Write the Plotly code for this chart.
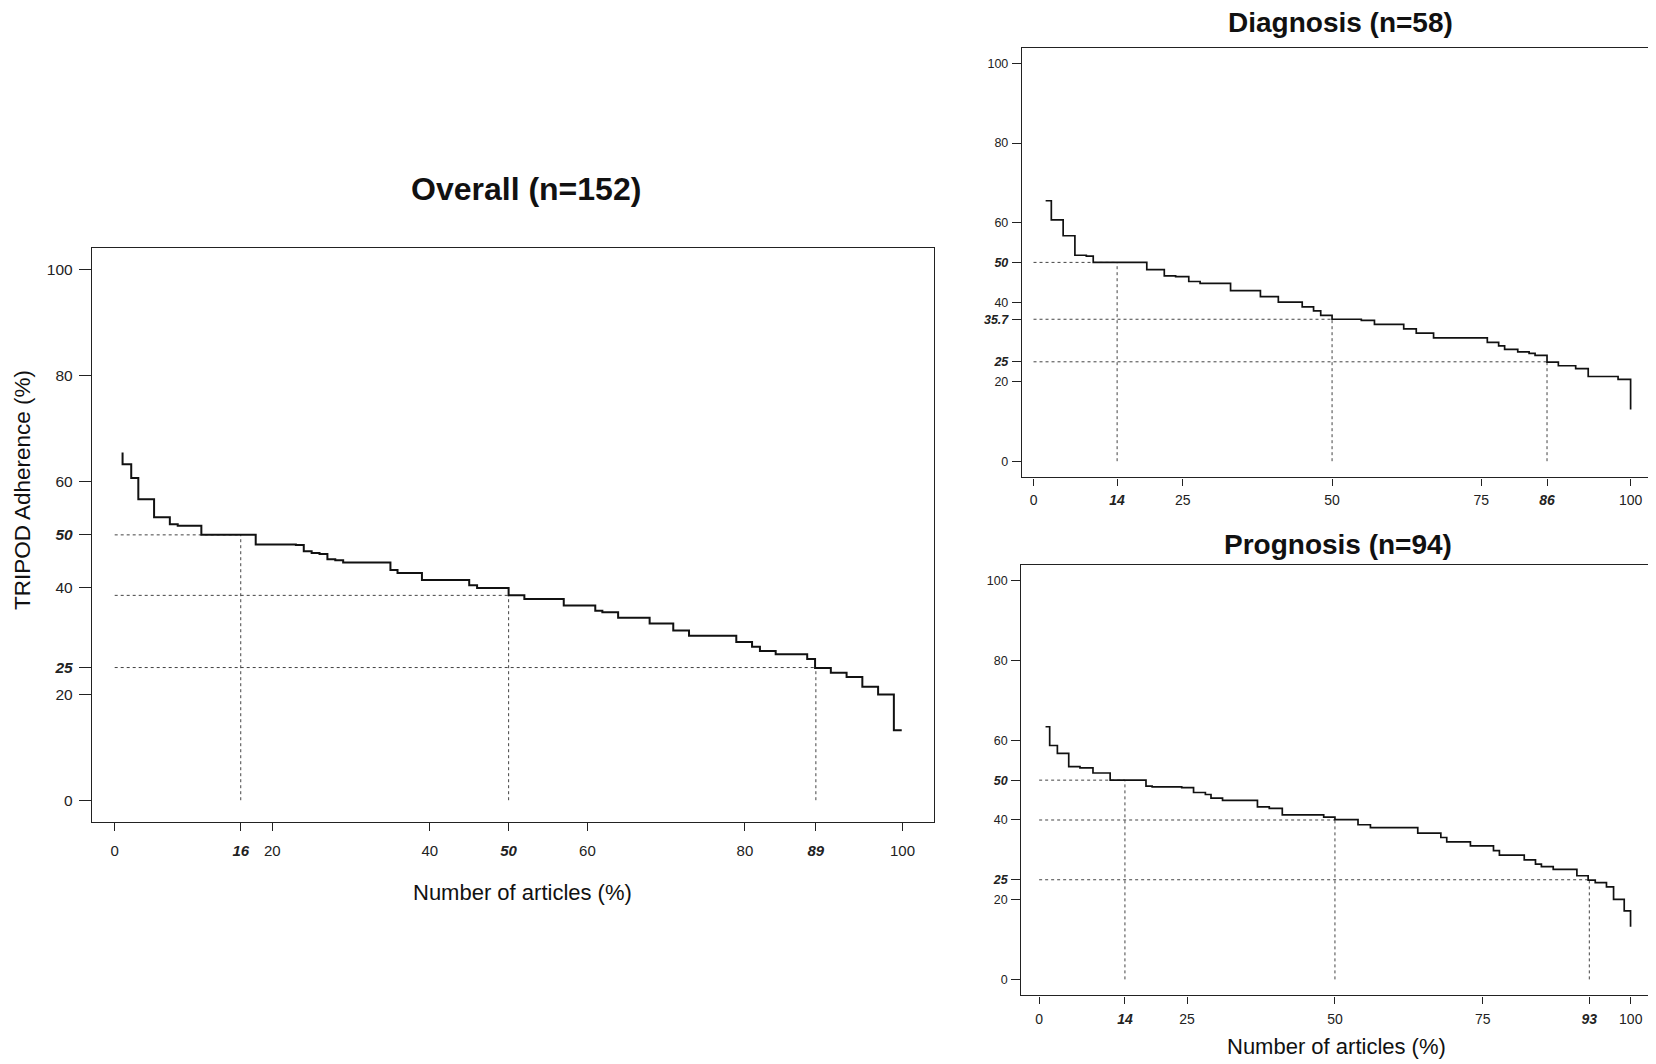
import plotly.graph_objects as go

# ---------------- data ----------------
# Overall (n=152): step curve, x = end of each horizontal step (%), y = adherence level (%)
overall_x = [1.0, 2.1, 3.0, 5.0, 7.0, 8.0, 11.0, 17.9, 23.0, 24.0, 25.0, 26.0, 27.0, 28.0,
             29.0, 35.0, 35.9, 39.0, 45.0, 46.0, 50.0, 52.0, 57.0, 61.0, 61.9, 63.9, 67.9,
             70.9, 72.9, 78.9, 80.9, 81.9, 83.9, 87.9, 88.9, 90.9, 92.9, 94.9, 96.9, 98.9, 99.9]
overall_y = [65.5, 63.3, 60.7, 56.7, 53.3, 52.0, 51.7, 50.0, 48.2, 48.1, 46.9, 46.6, 46.4, 45.4,
             45.2, 44.8, 43.4, 42.8, 41.5, 40.5, 40.0, 38.6, 37.9, 36.7, 35.7, 35.4, 34.4,
             33.3, 32.0, 31.0, 29.8, 28.9, 28.1, 27.5, 26.6, 24.9, 24.0, 23.2, 21.4, 19.9, 13.2]
overall_ref_x = [16, 50, 89]
overall_ref_y = [50, 38.6, 25]

# Diagnosis (n=58)
diag_x = [2.03, 2.98, 4.96, 6.93, 8.84, 10.0, 18.97, 21.9, 23.8, 26.0, 27.9, 33.0, 38.0, 41.0,
          45.0, 46.9, 48.1, 50.0, 54.9, 57.1, 62.0, 64.1, 67.0, 76.0, 77.9, 78.9, 81.1, 83.0,
          84.0, 86.0, 87.9, 90.8, 92.9, 97.9, 100.0, 100.0]
diag_y = [65.5, 65.5, 60.7, 56.7, 51.8, 51.6, 50.0, 48.2, 46.6, 46.4, 45.2, 44.7, 42.9, 41.4,
          40.0, 38.8, 37.8, 36.7, 35.7, 35.4, 34.4, 33.3, 32.2, 31.0, 29.9, 29.0, 28.1, 27.5,
          27.1, 26.6, 24.9, 24.0, 23.3, 21.3, 20.6, 13.0]
diag_ref_x = [14, 50, 86]
diag_ref_y = [50, 35.7, 25]

# Prognosis (n=94)
prog_x = [1.08, 1.78, 3.08, 5.0, 6.9, 9.1, 12.0, 18.06, 19.1, 24.1, 26.1, 28.1, 29.05, 31.0,
          36.9, 38.9, 41.1, 48.1, 50.0, 53.9, 56.0, 64.0, 67.9, 68.9, 72.9, 76.8, 77.8, 82.0,
          83.9, 84.9, 86.9, 90.9, 92.8, 94.0, 95.9, 97.1, 98.9, 99.97, 99.97]
prog_y = [63.4, 63.4, 58.7, 56.7, 53.4, 53.1, 51.8, 50.0, 48.5, 48.3, 48.1, 46.9, 46.4, 45.5,
          44.9, 43.3, 42.9, 41.3, 40.7, 40.1, 38.8, 38.1, 36.7, 35.6, 34.5, 33.5, 32.3, 31.2,
          30.0, 28.9, 28.3, 27.6, 26.0, 24.9, 24.3, 23.2, 20.1, 17.2, 13.2]
prog_ref_x = [14.5, 50, 93]
prog_ref_y = [50, 40, 25]

# ticks
overall_xticks = [0, 16, 20, 40, 50, 60, 80, 89, 100]
overall_xlabels = ["0", "<b><i>16</i></b>", "20", "40", "<b><i>50</i></b>", "60", "80", "<b><i>89</i></b>", "100"]
overall_yticks = [0, 20, 25, 40, 50, 60, 80, 100]
overall_ylabels = ["0", "20", "<b><i>25</i></b>", "40", "<b><i>50</i></b>", "60", "80", "100"]
diag_xticks = [0, 14, 25, 50, 75, 86, 100]
diag_xlabels = ["0", "<b><i>14</i></b>", "25", "50", "75", "<b><i>86</i></b>", "100"]
diag_yticks = [0, 20, 25, 35.7, 40, 50, 60, 80, 100]
diag_ylabels = ["0", "20", "<b><i>25</i></b>", "<b><i>35.7</i></b>", "40", "<b><i>50</i></b>", "60", "80", "100"]
prog_xticks = [0, 14.5, 25, 50, 75, 93, 100]
prog_xlabels = ["0", "<b><i>14</i></b>", "25", "50", "75", "<b><i>93</i></b>", "100"]
prog_yticks = [0, 20, 25, 40, 50, 60, 80, 100]
prog_ylabels = ["0", "20", "<b><i>25</i></b>", "40", "<b><i>50</i></b>", "60", "80", "100"]

# ---------------- layout helpers ----------------
OFF = 8                      # default page body margin in the browser
W, H = 1656 - OFF, 1064 - OFF
def fx(p):
    return (p - OFF) / W
def fy(p):
    return 1 - (p - OFF) / H

CURVE = "#111111"
REF = "#444444"
AX = "#222222"
FONT = "Liberation Sans, Arial, sans-serif"
NARROW = "Liberation Sans Narrow, Arial Narrow, Liberation Sans, Arial, sans-serif"

fig = go.Figure()

def ref_lines(rx, ry):
    xs, ys = [], []
    for a, b in zip(rx, ry):
        xs += [0, a, None, a, a, None]
        ys += [b, b, None, 0, b, None]
    return xs, ys

panels = [
    ("x", "y", overall_x, overall_y, overall_ref_x, overall_ref_y, 2.0),
    ("x2", "y2", diag_x, diag_y, diag_ref_x, diag_ref_y, 1.7),
    ("x3", "y3", prog_x, prog_y, prog_ref_x, prog_ref_y, 1.7),
]
for xa, ya, cx, cy, rx, ry, lw in panels:
    rxs, rys = ref_lines(rx, ry)
    fig.add_trace(go.Scatter(x=rxs, y=rys, mode="lines", xaxis=xa, yaxis=ya,
                             line=dict(color=REF, width=1, dash="dot"),
                             showlegend=False, hoverinfo="skip"))
    fig.add_trace(go.Scatter(x=cx, y=cy, mode="lines", xaxis=xa, yaxis=ya,
                             line=dict(color=CURVE, width=lw, shape="vh"),
                             showlegend=False))

def axis(domain, rng, tv, tt, ticklen, fsize, family, standoff, anchor):
    return dict(domain=domain, range=rng, tickvals=tv, ticktext=tt, ticks="outside",
                ticklen=ticklen, tickwidth=1, tickcolor=AX, showline=True, mirror=True,
                linecolor=AX, linewidth=1.4, showgrid=False, zeroline=False,
                tickfont=dict(family=family, size=fsize, color="#222"),
                ticklabelstandoff=standoff, anchor=anchor, fixedrange=True)

fig.update_layout(
    width=W, height=H, autosize=False,
    margin=dict(l=0, r=0, t=0, b=0),
    paper_bgcolor="white", plot_bgcolor="white",
    xaxis=axis([fx(92), fx(933.8)], [-2.88, 103.97], overall_xticks, overall_xlabels, 8, 15, FONT, 7, "y"),
    yaxis=axis([fy(821.7), fy(248.3)], [-4.05, 104.0], overall_yticks, overall_ylabels, 12, 15.5, FONT, 3, "x"),
    xaxis2=axis([fx(1022), fx(1653)], [-1.93, 103.75], diag_xticks, diag_xlabels, 7, 14, NARROW, 3, "y2"),
    yaxis2=axis([fy(477.3), fy(47.7)], [-4.05, 104.0], diag_yticks, diag_ylabels, 9, 12.5, NARROW, 1, "x2"),
    xaxis3=axis([fx(1021.4), fx(1653.8)], [-3.0, 103.9], prog_xticks, prog_xlabels, 7, 14, NARROW, 4, "y3"),
    yaxis3=axis([fy(995.3), fy(565)], [-4.0, 104.0], prog_yticks, prog_ylabels, 9, 12.5, NARROW, 1, "x3"),
)

def text(s, x, y, size, bold=False, angle=0):
    fig.add_annotation(text=("<b>%s</b>" % s) if bold else s, x=fx(x), y=fy(y),
                       xref="paper", yref="paper", showarrow=False, xanchor="center",
                       yanchor="middle", textangle=angle,
                       font=dict(family=FONT, size=size, color="#111"))

text("Overall (n=152)", 526, 189, 32, bold=True)
text("Diagnosis (n=58)", 1340, 23, 28, bold=True)
text("Prognosis (n=94)", 1338, 544, 28, bold=True)
text("Number of articles (%)", 522, 892, 22)
text("Number of articles (%)", 1336, 1046, 22)
text("TRIPOD Adherence (%)", 22, 490, 22.5, angle=-90)

fig.write_html("out.html")
